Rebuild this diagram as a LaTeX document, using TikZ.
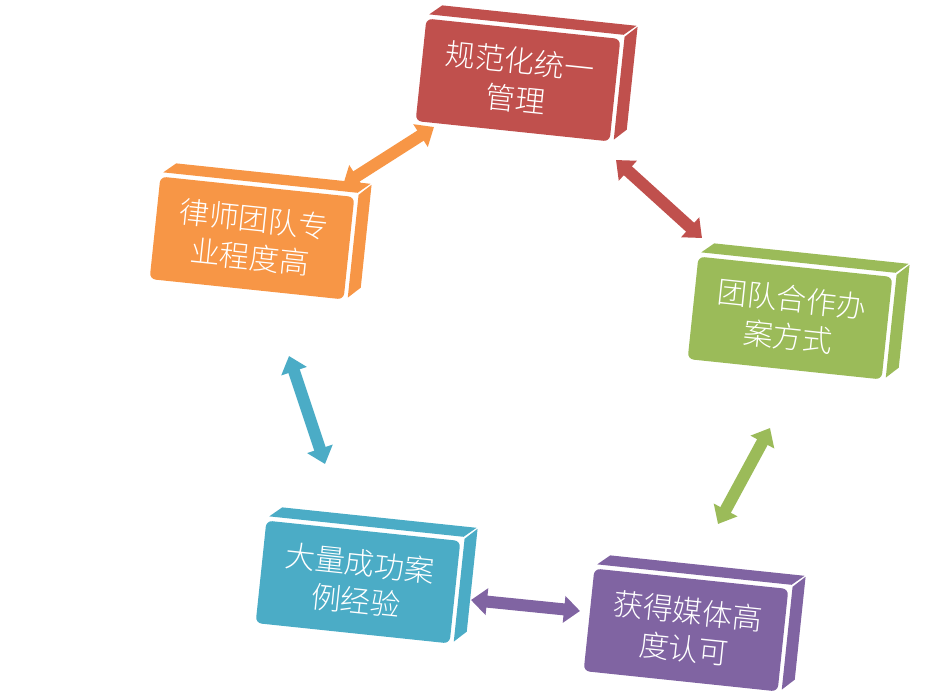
\documentclass[tikz,border=0pt]{standalone}
\usepackage{fontspec}
\newfontfamily\cjk{Noto Sans CJK SC Light}
\usetikzlibrary{arrows.meta}
\definecolor{cred}{RGB}{192,80,77}
\definecolor{corange}{RGB}{247,150,70}
\definecolor{cgreen}{RGB}{155,187,89}
\definecolor{cblue}{RGB}{75,172,198}
\definecolor{cpurple}{RGB}{128,100,162}
\tikzset{
  frontbox/.style={fill=#1, rounded corners=6pt, rotate=-6, minimum width=195pt,
    minimum height=103pt, align=center, text=white, font=\cjk\fontsize{30}{38}\selectfont},
  linkarrow/.style={draw=#1, line width=12pt,
    {Triangle[length=16pt,width=26pt]}-{Triangle[length=16pt,width=26pt]}}
}
\newcommand{\boxsides}[2]{%
  \fill[#2] ([shift={(3,-4)}]#1.north west) -- ([shift={(16,-13)}]#1.north west)
    -- ([shift={(16,-13)}]#1.north east) -- ([shift={(3,-4)}]#1.north east) -- cycle;
  \fill[#2] ([shift={(4,-2)}]#1.north east) -- ([shift={(17,-12)}]#1.north east)
    -- ([shift={(17,-12)}]#1.south east) -- ([shift={(4,-2)}]#1.south east) -- cycle;
}
\begin{document}
\begin{tikzpicture}[x=1pt,y=-1pt]
    \useasboundingbox (0,0) rectangle (938,697);
    % boxes
    \node[frontbox=cred] (manage) at (518,80) {规范化统一\\管理};
    \boxsides{manage}{cred}
    \node[frontbox=corange] (lawyer) at (252,238) {律师团队专\\业程度高};
    \boxsides{lawyer}{corange}
    \node[frontbox=cgreen] (team) at (790,318) {团队合作办\\案方式};
    \boxsides{team}{cgreen}
    \node[frontbox=cpurple] (media) at (686,630) {获得媒体高\\度认可};
    \boxsides{media}{cpurple}
    \node[frontbox=cblue] (cases) at (358,582) {大量成功案\\例经验};
    \boxsides{cases}{cblue}
    % arrow ends
    \coordinate (ol) at (343,185); \coordinate (or) at (434,127);
    \coordinate (rl) at (616,160); \coordinate (rr) at (702,238);
    \coordinate (gl) at (770,428); \coordinate (gr) at (718,524);
    \coordinate (pl) at (580,611); \coordinate (pr) at (471,600);
    \coordinate (bl) at (289,356); \coordinate (br) at (325,464);
    % arrows
    \draw[linkarrow=corange] (ol) -- (or);
    \draw[linkarrow=cred] (rl) -- (rr);
    \draw[linkarrow=cgreen] (gl) -- (gr);
    \draw[linkarrow=cpurple] (pl) -- (pr);
    \draw[linkarrow=cblue] (bl) -- (br);
\end{tikzpicture}
\end{document}
